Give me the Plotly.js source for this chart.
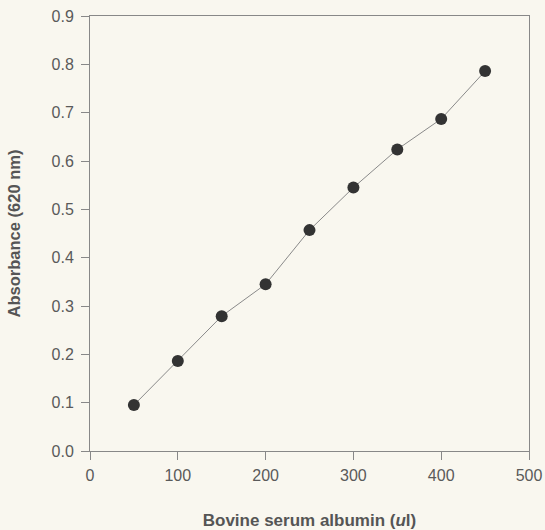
<!DOCTYPE html>
<html><head><meta charset="utf-8">
<script src="https://cdn.plot.ly/plotly-3.0.1.min.js"></script>
<style>html,body{margin:0;padding:0;background:#f9f7ef;}</style>
</head><body>
<div id="chart" style="width:545px;height:530px;"></div>
<script>
const bsa = [50, 100, 150, 200, 250, 300, 350, 400, 450];
const absorbance = [0.095, 0.186, 0.279, 0.345, 0.457, 0.545, 0.624, 0.687, 0.786];
const xTicks = [0, 100, 200, 300, 400, 500];
const yTicks = [0, 0.1, 0.2, 0.3, 0.4, 0.5, 0.6, 0.7, 0.8, 0.9];
const yTickText = yTicks.map(v => v.toFixed(1));

const fam = 'Liberation Sans, Arial, sans-serif';
Plotly.newPlot('chart', [{
  x: bsa, y: absorbance, type: 'scatter', mode: 'lines+markers',
  line: {color: '#8a8a8a', width: 1},
  marker: {color: '#333333', size: 12}
}], {
  width: 545, height: 530,
  margin: {l: 90, r: 16, t: 16, b: 79},
  paper_bgcolor: '#f9f7ef', plot_bgcolor: '#f9f7ef',
  font: {family: fam, color: '#555', size: 16},
  showlegend: false,
  xaxis: {
    range: [0, 500], tickvals: xTicks, ticks: 'outside', ticklen: 8, tickcolor: '#888',
    tickfont: {family: fam, size: 16, color: '#5a5a5a'}, ticklabelstandoff: 2,
    showline: true, linecolor: '#888', linewidth: 1, mirror: true, showgrid: false, zeroline: false,
    title: {text: '<b>Bovine serum albumin (<i>u</i>l)</b>', font: {family: fam, size: 17, color: '#555'}, standoff: 32}
  },
  yaxis: {
    range: [0, 0.9], tickvals: yTicks, ticktext: yTickText, ticks: 'outside', ticklen: 8, tickcolor: '#888',
    tickfont: {family: fam, size: 16, color: '#5a5a5a'}, ticklabelstandoff: 4,
    showline: true, linecolor: '#888', linewidth: 1, mirror: true, showgrid: false, zeroline: false,
    title: {text: '<b>Absorbance (620 nm)</b>', font: {family: fam, size: 16.5, color: '#555'}, standoff: 26}
  }
}, {displayModeBar: false, staticPlot: true});
</script>
</body></html>
